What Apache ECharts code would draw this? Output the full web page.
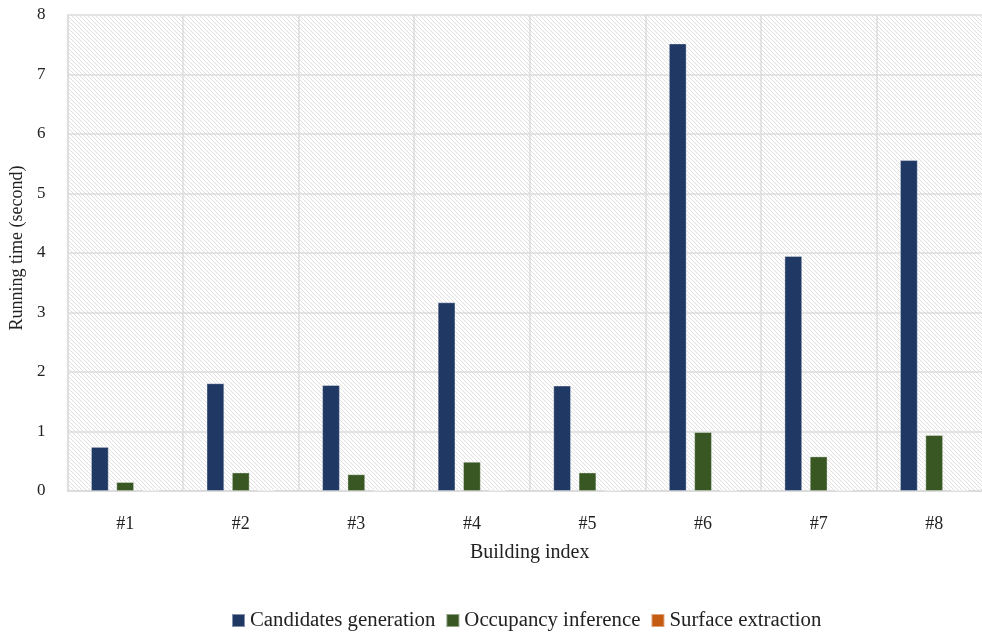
<!DOCTYPE html>
<html>
<head>
<meta charset="utf-8">
<script src="https://cdn.jsdelivr.net/npm/echarts@6/dist/echarts.min.js"></script>
<style>
  html, body { margin: 0; padding: 0; background: #ffffff; overflow: hidden; }
  /* the plot area runs a little past the right edge of the window */
  #chart { width: 992px; height: 635px; }
</style>
</head>
<body>
<div id="chart"></div>
<script>
// Running time per building, in seconds
const buildings = ['#1', '#2', '#3', '#4', '#5', '#6', '#7', '#8'];
const candidatesGeneration = [0.74, 1.81, 1.78, 3.17, 1.77, 7.52, 3.95, 5.56];
const occupancyInference = [0.15, 0.31, 0.28, 0.49, 0.31, 0.99, 0.58, 0.94];
const surfaceExtraction = [0.01, 0.01, 0.01, 0.01, 0.01, 0.01, 0.01, 0.01];
const yTicks = [0, 1, 2, 3, 4, 5, 6, 7, 8];

// Light diagonal hatch used as the plot background
function hatchPattern() {
  const c = document.createElement('canvas');
  c.width = 4; c.height = 4;
  const ctx = c.getContext('2d');
  ctx.fillStyle = '#ffffff';
  ctx.fillRect(0, 0, 4, 4);
  ctx.fillStyle = '#e0e0e0';
  for (let i = 0; i < 4; i++) ctx.fillRect(i, i, 1, 1);
  return { image: c, repeat: 'repeat' };
}

const serif = '"Liberation Serif", "DejaVu Serif", serif';
const chart = echarts.init(document.getElementById('chart'));

function barSeries(name, data, color) {
  return {
    name: name,
    type: 'bar',
    data: data,
    barWidth: 17.6,
    barGap: '44%',
    itemStyle: { color: color, borderColor: 'rgba(255,255,255,0.45)', borderWidth: 0.8 }
  };
}

chart.setOption({
  animation: false,
  textStyle: { fontFamily: serif },
  grid: {
    left: 67, right: 0, top: 15, bottom: 144,
    show: true,
    backgroundColor: hatchPattern(),
    borderWidth: 0
  },
  legend: {
    top: 605,
    left: 226,
    itemWidth: 13,
    itemHeight: 13,
    itemGap: 10,
    icon: 'rect',
    textStyle: { fontFamily: serif, fontSize: 20.8, color: '#222' },
    data: ['Candidates generation', 'Occupancy inference', 'Surface extraction']
  },
  xAxis: {
    type: 'category',
    data: buildings,
    name: 'Building index',
    nameLocation: 'middle',
    nameGap: 52,
    nameTextStyle: { fontFamily: serif, fontSize: 20, color: '#222' },
    axisLine: { show: true, lineStyle: { color: '#d9d9d9', width: 1.5 } },
    axisTick: { show: false },
    axisLabel: { fontFamily: serif, fontSize: 18, color: '#222', margin: 24 },
    splitLine: { show: true, lineStyle: { color: '#dcdcdc', width: 1.5 } }
  },
  yAxis: {
    type: 'value',
    min: yTicks[0],
    max: yTicks[yTicks.length - 1],
    interval: 1,
    name: 'Running time (second)',
    nameLocation: 'middle',
    nameGap: 39,
    nameTextStyle: { fontFamily: serif, fontSize: 18, color: '#222', padding: [0, 0, 0, 10] },
    axisLine: { show: true, lineStyle: { color: '#dcdcdc', width: 1.5 } },
    axisTick: { show: false },
    axisLabel: { fontFamily: serif, fontSize: 17, color: '#222', margin: 22 },
    splitLine: { show: true, lineStyle: { color: '#dcdcdc', width: 1.5 } }
  },
  series: [
    barSeries('Candidates generation', candidatesGeneration, '#203864'),
    barSeries('Occupancy inference', occupancyInference, '#385723'),
    barSeries('Surface extraction', surfaceExtraction, '#c55a11')
  ]
});
</script>
</body>
</html>
